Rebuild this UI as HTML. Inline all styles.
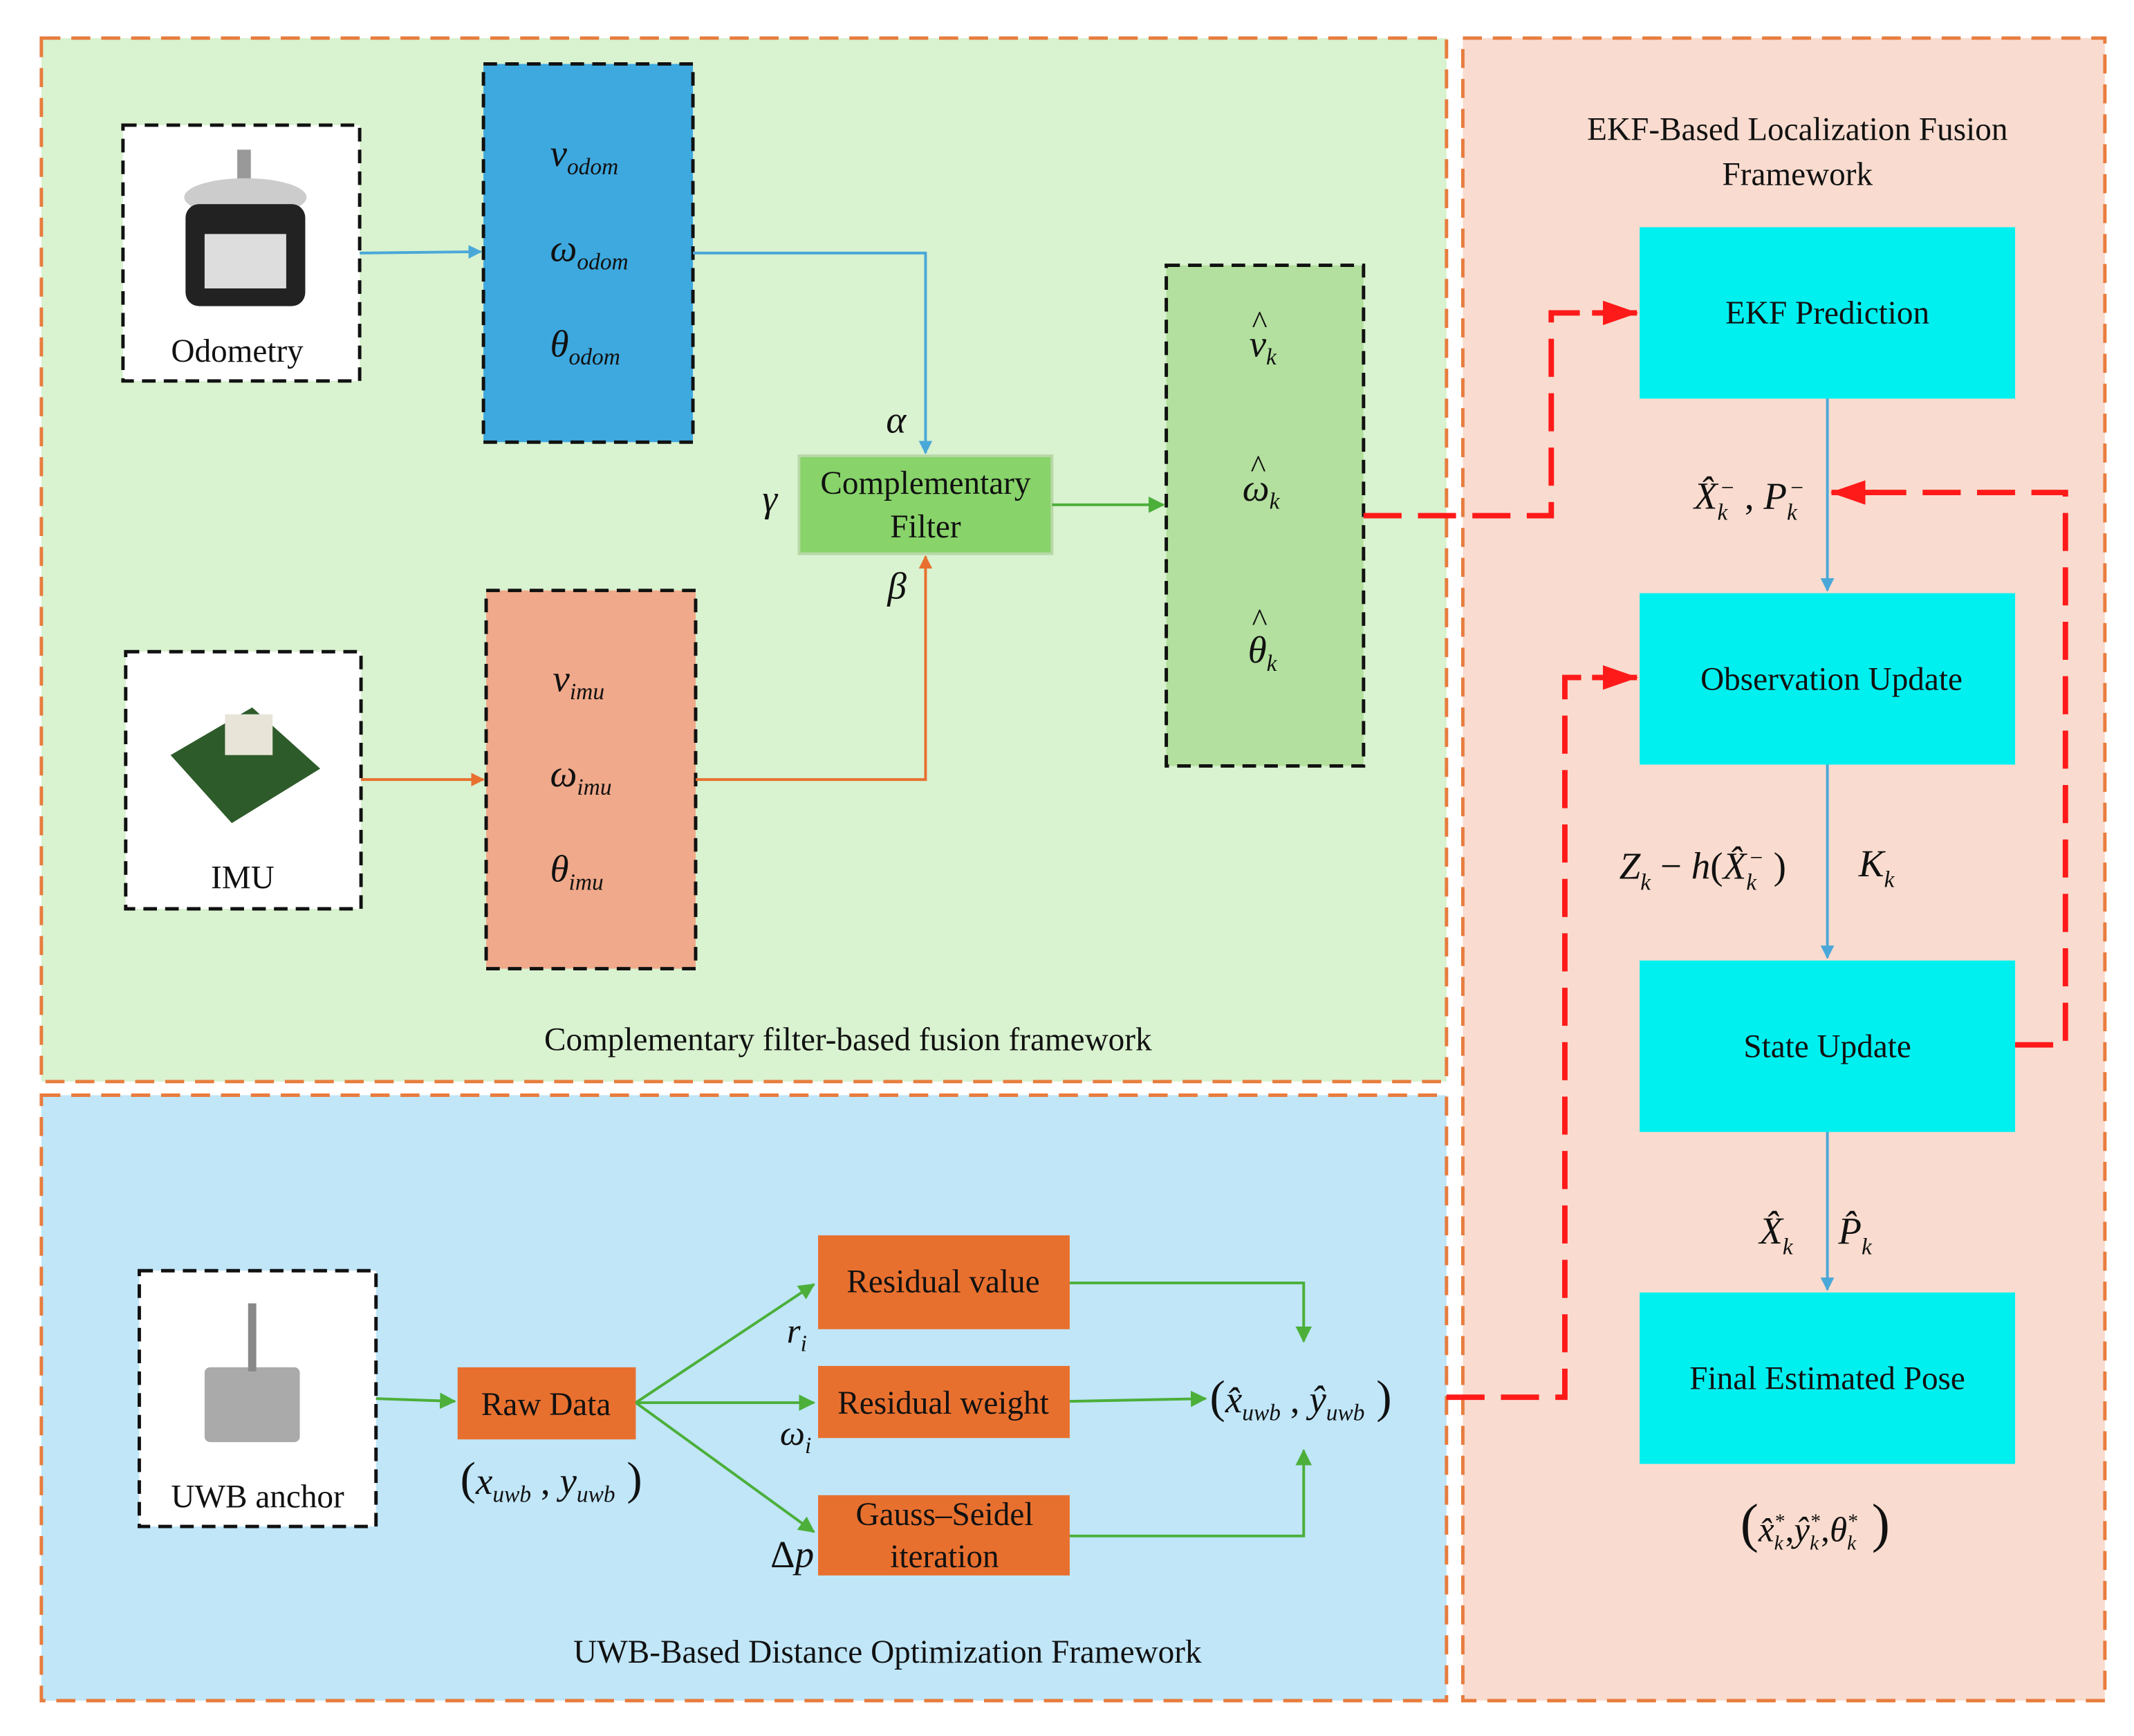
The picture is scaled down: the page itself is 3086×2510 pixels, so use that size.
<!DOCTYPE html>
<html><head><meta charset="utf-8"><style>
html,body{margin:0;padding:0;background:#fff}
svg{display:block}
text{font-family:"Liberation Serif",serif;fill:#111}
.m{font-style:italic}
</style></head><body>
<svg width="3086" height="2510" viewBox="0 0 1568 1276" xmlns="http://www.w3.org/2000/svg">
<defs>
<marker id="ab" markerWidth="10" markerHeight="10" refX="9" refY="5" orient="auto" markerUnits="userSpaceOnUse"><path d="M0,0 L10,5 L0,10 z" fill="#4aa8d8"/></marker>
<marker id="ao" markerWidth="10" markerHeight="10" refX="9" refY="5" orient="auto" markerUnits="userSpaceOnUse"><path d="M0,0 L10,5 L0,10 z" fill="#e8702f"/></marker>
<marker id="ag" markerWidth="12" markerHeight="12" refX="11" refY="6" orient="auto" markerUnits="userSpaceOnUse"><path d="M0,0 L12,6 L0,12 z" fill="#4caf3a"/></marker>
<marker id="ar" markerWidth="26" markerHeight="18" refX="25" refY="9" orient="auto" markerUnits="userSpaceOnUse"><path d="M0,0 L26,9 L0,18 z" fill="#ff1a1a"/></marker>
</defs>
<rect width="1568" height="1276" fill="#fff"/>
<rect x="30" y="28" width="1033" height="767" fill="#d9f2d0" stroke="#e87c3e" stroke-width="2.5" stroke-dasharray="14,8"/>
<rect x="30" y="805" width="1033" height="445" fill="#c0e6f8" stroke="#e87c3e" stroke-width="2.5" stroke-dasharray="14,8"/>
<rect x="1075" y="28" width="472" height="1222" fill="#f9dccf" stroke="#e87c3e" stroke-width="2.5" stroke-dasharray="14,8"/>

<rect x="90" y="92" width="174" height="188" fill="#fff" stroke="#111" stroke-width="2.5" stroke-dasharray="10,6"/>
<rect x="174" y="110" width="10" height="30" fill="#999"/><ellipse cx="180" cy="145" rx="45" ry="14" fill="#ccc"/><rect x="136" y="150" width="88" height="75" rx="10" fill="#222"/><rect x="150" y="172" width="60" height="40" fill="#ddd"/>
<text x="174" y="266" font-size="24" text-anchor="middle">Odometry</text>
<rect x="92" y="479" width="173" height="189" fill="#fff" stroke="#111" stroke-width="2.5" stroke-dasharray="10,6"/>
<polygon points="125,555 185,520 235,565 170,605" fill="#2d5b2a"/><rect x="165" y="525" width="35" height="30" fill="#e8e4d8"/>
<text x="178" y="653" font-size="24" text-anchor="middle">IMU</text>
<rect x="102" y="934" width="174" height="188" fill="#fff" stroke="#111" stroke-width="2.5" stroke-dasharray="10,6"/>
<rect x="150" y="1005" width="70" height="55" rx="4" fill="#aaa"/><rect x="182" y="958" width="6" height="50" fill="#888"/>
<text x="189" y="1108" font-size="24" text-anchor="middle">UWB anchor</text>

<rect x="355" y="47" width="154" height="278" fill="#3ea9df" stroke="#111" stroke-width="2.5" stroke-dasharray="10,6"/>
<text x="404" y="122" font-size="28" class="m">v<tspan font-size="17" dy="6">odom</tspan></text>
<text x="404" y="192" font-size="28" class="m">ω<tspan font-size="17" dy="6">odom</tspan></text>
<text x="404" y="262" font-size="28" class="m">θ<tspan font-size="17" dy="6">odom</tspan></text>
<rect x="357" y="434" width="154" height="278" fill="#f0a98a" stroke="#111" stroke-width="2.5" stroke-dasharray="10,6"/>
<text x="406" y="508" font-size="28" class="m">v<tspan font-size="17" dy="6">imu</tspan></text>
<text x="404" y="578" font-size="28" class="m">ω<tspan font-size="17" dy="6">imu</tspan></text>
<text x="404" y="648" font-size="28" class="m">θ<tspan font-size="17" dy="6">imu</tspan></text>

<rect x="587" y="335" width="186" height="72" fill="#88d36a" stroke="#b8d8a8" stroke-width="2"/>
<text x="680" y="363" font-size="24" text-anchor="middle">Complementary</text>
<text x="680" y="395" font-size="24" text-anchor="middle">Filter</text>
<text x="651" y="318" font-size="28" class="m">α</text>
<text x="560" y="376" font-size="28" class="m">γ</text>
<text x="652" y="440" font-size="28" class="m">β</text>

<rect x="857" y="195" width="145" height="368" fill="#b3e09e" stroke="#111" stroke-width="2.5" stroke-dasharray="10,6"/>
<text x="918" y="262" font-size="28" class="m">v<tspan font-size="17" dy="6">k</tspan></text>
<text x="920" y="245" font-size="24">^</text>
<text x="913" y="368" font-size="28" class="m">ω<tspan font-size="17" dy="6">k</tspan></text>
<text x="919" y="351" font-size="24">^</text>
<text x="917" y="487" font-size="28" class="m">θ<tspan font-size="17" dy="6">k</tspan></text>
<text x="920" y="464" font-size="24">^</text>

<line x1="264" y1="186" x2="353" y2="185" stroke="#4aa8d8" stroke-width="2" marker-end="url(#ab)"/>
<polyline points="509,186 680,186 680,333" fill="none" stroke="#4aa8d8" stroke-width="2" marker-end="url(#ab)"/>
<line x1="265" y1="573" x2="355" y2="573" stroke="#e8702f" stroke-width="2" marker-end="url(#ao)"/>
<polyline points="511,573 680,573 680,409" fill="none" stroke="#e8702f" stroke-width="2" marker-end="url(#ao)"/>
<line x1="773" y1="371" x2="855" y2="371" stroke="#4caf3a" stroke-width="2" marker-end="url(#ag)"/>
<text x="623" y="772" font-size="24" text-anchor="middle">Complementary filter-based fusion framework</text>

<rect x="336" y="1005" width="131" height="53" fill="#e8702f"/>
<text x="401" y="1040" font-size="24" text-anchor="middle">Raw Data</text>
<rect x="601" y="908" width="185" height="69" fill="#e8702f"/>
<text x="693" y="950" font-size="24" text-anchor="middle">Residual value</text>
<rect x="601" y="1004" width="185" height="53" fill="#e8702f"/>
<text x="693" y="1039" font-size="24" text-anchor="middle">Residual weight</text>
<rect x="601" y="1099" width="185" height="59" fill="#e8702f"/>
<text x="694" y="1121" font-size="24" text-anchor="middle">Gauss–Seidel</text>
<text x="694" y="1152" font-size="24" text-anchor="middle">iteration</text>
<line x1="276" y1="1028" x2="334" y2="1030" stroke="#4caf3a" stroke-width="2" marker-end="url(#ag)"/>
<line x1="467" y1="1031" x2="598" y2="944" stroke="#4caf3a" stroke-width="2" marker-end="url(#ag)"/>
<line x1="467" y1="1031" x2="598" y2="1031" stroke="#4caf3a" stroke-width="2" marker-end="url(#ag)"/>
<line x1="467" y1="1031" x2="598" y2="1126" stroke="#4caf3a" stroke-width="2" marker-end="url(#ag)"/>
<polyline points="786,943 958,943 958,986" fill="none" stroke="#4caf3a" stroke-width="2" marker-end="url(#ag)"/>
<line x1="786" y1="1030" x2="886" y2="1028" stroke="#4caf3a" stroke-width="2" marker-end="url(#ag)"/>
<polyline points="786,1129 958,1129 958,1066" fill="none" stroke="#4caf3a" stroke-width="2" marker-end="url(#ag)"/>
<text x="578" y="987" font-size="26" class="m">r<tspan font-size="17" dy="6">i</tspan></text>
<text x="573" y="1062" font-size="26" class="m">ω<tspan font-size="17" dy="6">i</tspan></text>
<text x="566" y="1152" font-size="28" class="m"><tspan font-style="normal">Δ</tspan>p</text>
<text x="338" y="1098" font-size="34">(<tspan class="m" font-size="28">x</tspan><tspan class="m" font-size="17" dy="6">uwb</tspan><tspan font-size="28" dy="-6"> , </tspan><tspan class="m" font-size="28">y</tspan><tspan class="m" font-size="17" dy="6">uwb</tspan><tspan dy="-6"> )</tspan></text>
<text x="889" y="1038" font-size="34">(<tspan class="m" font-size="28">x̂</tspan><tspan class="m" font-size="17" dy="6">uwb</tspan><tspan font-size="28" dy="-6"> , </tspan><tspan class="m" font-size="28">ŷ</tspan><tspan class="m" font-size="17" dy="6">uwb</tspan><tspan dy="-6"> )</tspan></text>
<text x="652" y="1222" font-size="24" text-anchor="middle">UWB-Based Distance Optimization Framework</text>

<text x="1321" y="103" font-size="24" text-anchor="middle">EKF-Based Localization Fusion</text>
<text x="1321" y="136" font-size="24" text-anchor="middle">Framework</text>
<rect x="1205" y="167" width="276" height="126" fill="#00f0f0"/>
<text x="1343" y="238" font-size="24" text-anchor="middle">EKF Prediction</text>
<rect x="1205" y="436" width="276" height="126" fill="#00f0f0"/>
<text x="1346" y="507" font-size="24" text-anchor="middle">Observation Update</text>
<rect x="1205" y="706" width="276" height="126" fill="#00f0f0"/>
<text x="1343" y="777" font-size="24" text-anchor="middle">State Update</text>
<rect x="1205" y="950" width="276" height="126" fill="#00f0f0"/>
<text x="1343" y="1021" font-size="24" text-anchor="middle">Final Estimated Pose</text>
<line x1="1343" y1="293" x2="1343" y2="434" stroke="#4aa8d8" stroke-width="2" marker-end="url(#ab)"/>
<line x1="1343" y1="562" x2="1343" y2="704" stroke="#4aa8d8" stroke-width="2" marker-end="url(#ab)"/>
<line x1="1343" y1="832" x2="1343" y2="948" stroke="#4aa8d8" stroke-width="2" marker-end="url(#ab)"/>
<text x="1245" y="374" font-size="28" class="m">X̂<tspan font-size="17" dy="8">k</tspan><tspan font-size="17" dy="-18" dx="-6">−</tspan><tspan font-size="28" dy="10" font-style="normal"> , </tspan>P<tspan font-size="17" dy="8">k</tspan><tspan font-size="17" dy="-18" dx="-6">−</tspan></text>
<text x="1190" y="646" font-size="28" class="m">Z<tspan font-size="17" dy="8">k</tspan><tspan dy="-8" font-style="normal"> − </tspan>h<tspan font-style="normal">(</tspan>X̂<tspan font-size="17" dy="8">k</tspan><tspan font-size="17" dy="-18" dx="-6">−</tspan><tspan dy="10" font-style="normal"> )</tspan></text>
<text x="1366" y="644" font-size="28" class="m">K<tspan font-size="17" dy="8">k</tspan></text>
<text x="1293" y="914" font-size="28" class="m">X̂<tspan font-size="17" dy="8">k</tspan></text>
<text x="1351" y="914" font-size="28" class="m">P̂<tspan font-size="17" dy="8">k</tspan></text>
<text x="1279" y="1133" font-size="40">(<tspan class="m" font-size="26">x̂</tspan><tspan font-size="15" class="m" dy="6">k</tspan><tspan font-size="15" dy="-16" dx="-6">*</tspan><tspan font-size="26" dy="10">,</tspan><tspan class="m" font-size="26">ŷ</tspan><tspan font-size="15" class="m" dy="6">k</tspan><tspan font-size="15" dy="-16" dx="-6">*</tspan><tspan font-size="26" dy="10">,</tspan><tspan class="m" font-size="26">θ</tspan><tspan font-size="15" class="m" dy="6">k</tspan><tspan font-size="15" dy="-16" dx="-6">*</tspan><tspan dy="10"> )</tspan></text>

<g fill="none" stroke="#ff1a1a" stroke-width="4" stroke-dasharray="28,12">
<polyline points="1002,379 1140,379 1140,230 1175,230"/>
<polyline points="1063,1027 1150,1027 1150,498 1175,498"/>
<polyline points="1481,768 1518,768 1518,362 1375,362"/>
</g>
<line x1="1170" y1="230" x2="1203" y2="230" stroke="#ff1a1a" stroke-width="4" marker-end="url(#ar)"/>
<line x1="1170" y1="498" x2="1203" y2="498" stroke="#ff1a1a" stroke-width="4" marker-end="url(#ar)"/>
<line x1="1380" y1="362" x2="1346" y2="362" stroke="#ff1a1a" stroke-width="4" marker-end="url(#ar)"/>
</svg>
</body></html>
